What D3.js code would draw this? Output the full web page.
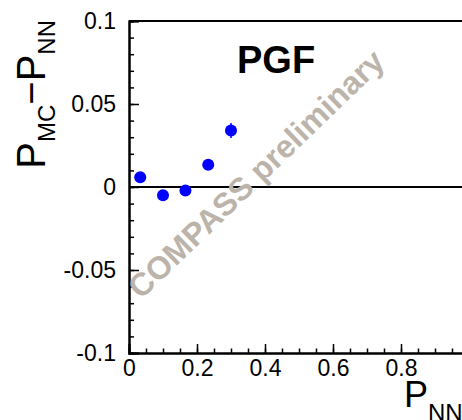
<!DOCTYPE html>
<html>
<head>
<meta charset="utf-8">
<script src="https://cdn.jsdelivr.net/npm/d3@7"></script>
<style>
body { margin: 0; background: #fff; }
text { font-family: "Liberation Sans", Arial, Helvetica, sans-serif; }
</style>
</head>
<body>
<div id="chart"></div>
<script>
// valori
var pNN = [0.033, 0.1, 0.166, 0.233, 0.3]
var diff = [0.0059, -0.0049, -0.0021, 0.0134, 0.034]
var errs = [0.0015, 0.0015, 0.0015, 0.002, 0.0045]
var xTicks = [0, 0.2, 0.4, 0.6, 0.8]
var yTicks = [-0.1, -0.05, 0, 0.05, 0.1]

var W = 462, H = 420

var svg = d3.select("#chart").append("svg")
	.attr("width", W)
	.attr("height", H)

var x = d3.scaleLinear().domain([0, 1]).range([129, 469])
var y = d3.scaleLinear().domain([-0.1, 0.1]).range([353, 21])

// ticks minori
var xMinor = d3.range(0, 1.0001, 0.05)
var yMinor = d3.range(-0.1, 0.1001, 0.01)

var xAxis = d3.axisBottom(x).tickValues(xMinor).tickSize(-4.5).tickFormat("")
var xMajor = d3.axisBottom(x).tickValues(xTicks).tickSize(-9).tickPadding(7)
	.tickFormat(function(d){ return d === 0 ? "0" : d3.format(".1f")(d) })

var yAxis = d3.axisLeft(y).tickValues(yMinor).tickSize(-5).tickFormat("")
var yMajor = d3.axisLeft(y).tickValues(yTicks).tickSize(-10).tickPadding(13)
	.tickFormat(function(d){ return d === 0 ? "0" : (Math.abs(d) === 0.1 ? d3.format(".1f")(d) : d3.format(".2f")(d)).replace("−", "-") })

function styleAxis(g) {
	g.select(".domain").attr("stroke-width", 2)
	g.selectAll(".tick line").attr("stroke-width", 1.5)
	g.selectAll("text").style("font-size", "23px").attr("fill", "#000")
		.style("font-family", "'Liberation Sans', Arial, sans-serif")
}

svg.append("g").attr("transform", "translate(0,353)").call(xAxis).call(styleAxis)
svg.append("g").attr("transform", "translate(0,353)").call(xMajor).call(styleAxis)
svg.append("g").attr("transform", "translate(129,0)").call(yAxis).call(styleAxis)
svg.append("g").attr("transform", "translate(129,0)").call(yMajor).call(styleAxis)

// cornice superiore
svg.append("line")
	.attr("x1", x(0)).attr("x2", x(1))
	.attr("y1", y(0.1)).attr("y2", y(0.1))
	.attr("stroke", "#000").attr("stroke-width", 2)

// linea dello zero
svg.append("line")
	.attr("x1", x(0)).attr("x2", x(1))
	.attr("y1", y(0)).attr("y2", y(0))
	.attr("stroke", "#000").attr("stroke-width", 2)

// scritta COMPASS preliminary
svg.append("text")
	.attr("transform", "translate(256,174) rotate(-44)")
	.attr("text-anchor", "middle")
	.attr("dominant-baseline", "central")
	.style("font-size", "32px")
	.style("font-weight", "bold")
	.attr("fill", "#bcb4aa")
	.text("COMPASS preliminary")

svg.append("text")
	.attr("x", 237).attr("y", 73)
	.style("font-size", "38px")
	.style("font-weight", "bold")
	.text("PGF")

// barre di errore
svg.append("g").selectAll("line")
	.data(pNN)
	.enter()
	.append("line")
	.attr("x1", function(d){ return x(d) })
	.attr("x2", function(d){ return x(d) })
	.attr("y1", function(d,i){ return y(diff[i] - errs[i]) })
	.attr("y2", function(d,i){ return y(diff[i] + errs[i]) })
	.attr("stroke", "#0000ff")
	.attr("stroke-width", 1.5)

svg.append("g").selectAll("circle")
	.data(pNN)
	.enter()
	.append("circle")
	.attr("cx", function(d){ return x(d) })
	.attr("cy", function(d,i){ return y(diff[i]) })
	.attr("r", 6)
	.attr("fill", "#0000ff")

// titoli degli assi
var yt = svg.append("text")
	.attr("transform", "translate(45,20) rotate(-90)")
	.attr("text-anchor", "end")
	.style("font-size", "40px")
yt.append("tspan").text("P")
yt.append("tspan").attr("dy", 10).style("font-size", "24px").text("MC")
yt.append("tspan").attr("dy", -10).text("\u2212P")
yt.append("tspan").attr("dy", 10).style("font-size", "24px").text("NN")

var xt = svg.append("text")
	.attr("x", 404).attr("y", 407)
	.style("font-size", "36px")
xt.append("tspan").text("P")
xt.append("tspan").attr("dy", 14).style("font-size", "24px").text("NN")
</script>
</body>
</html>
